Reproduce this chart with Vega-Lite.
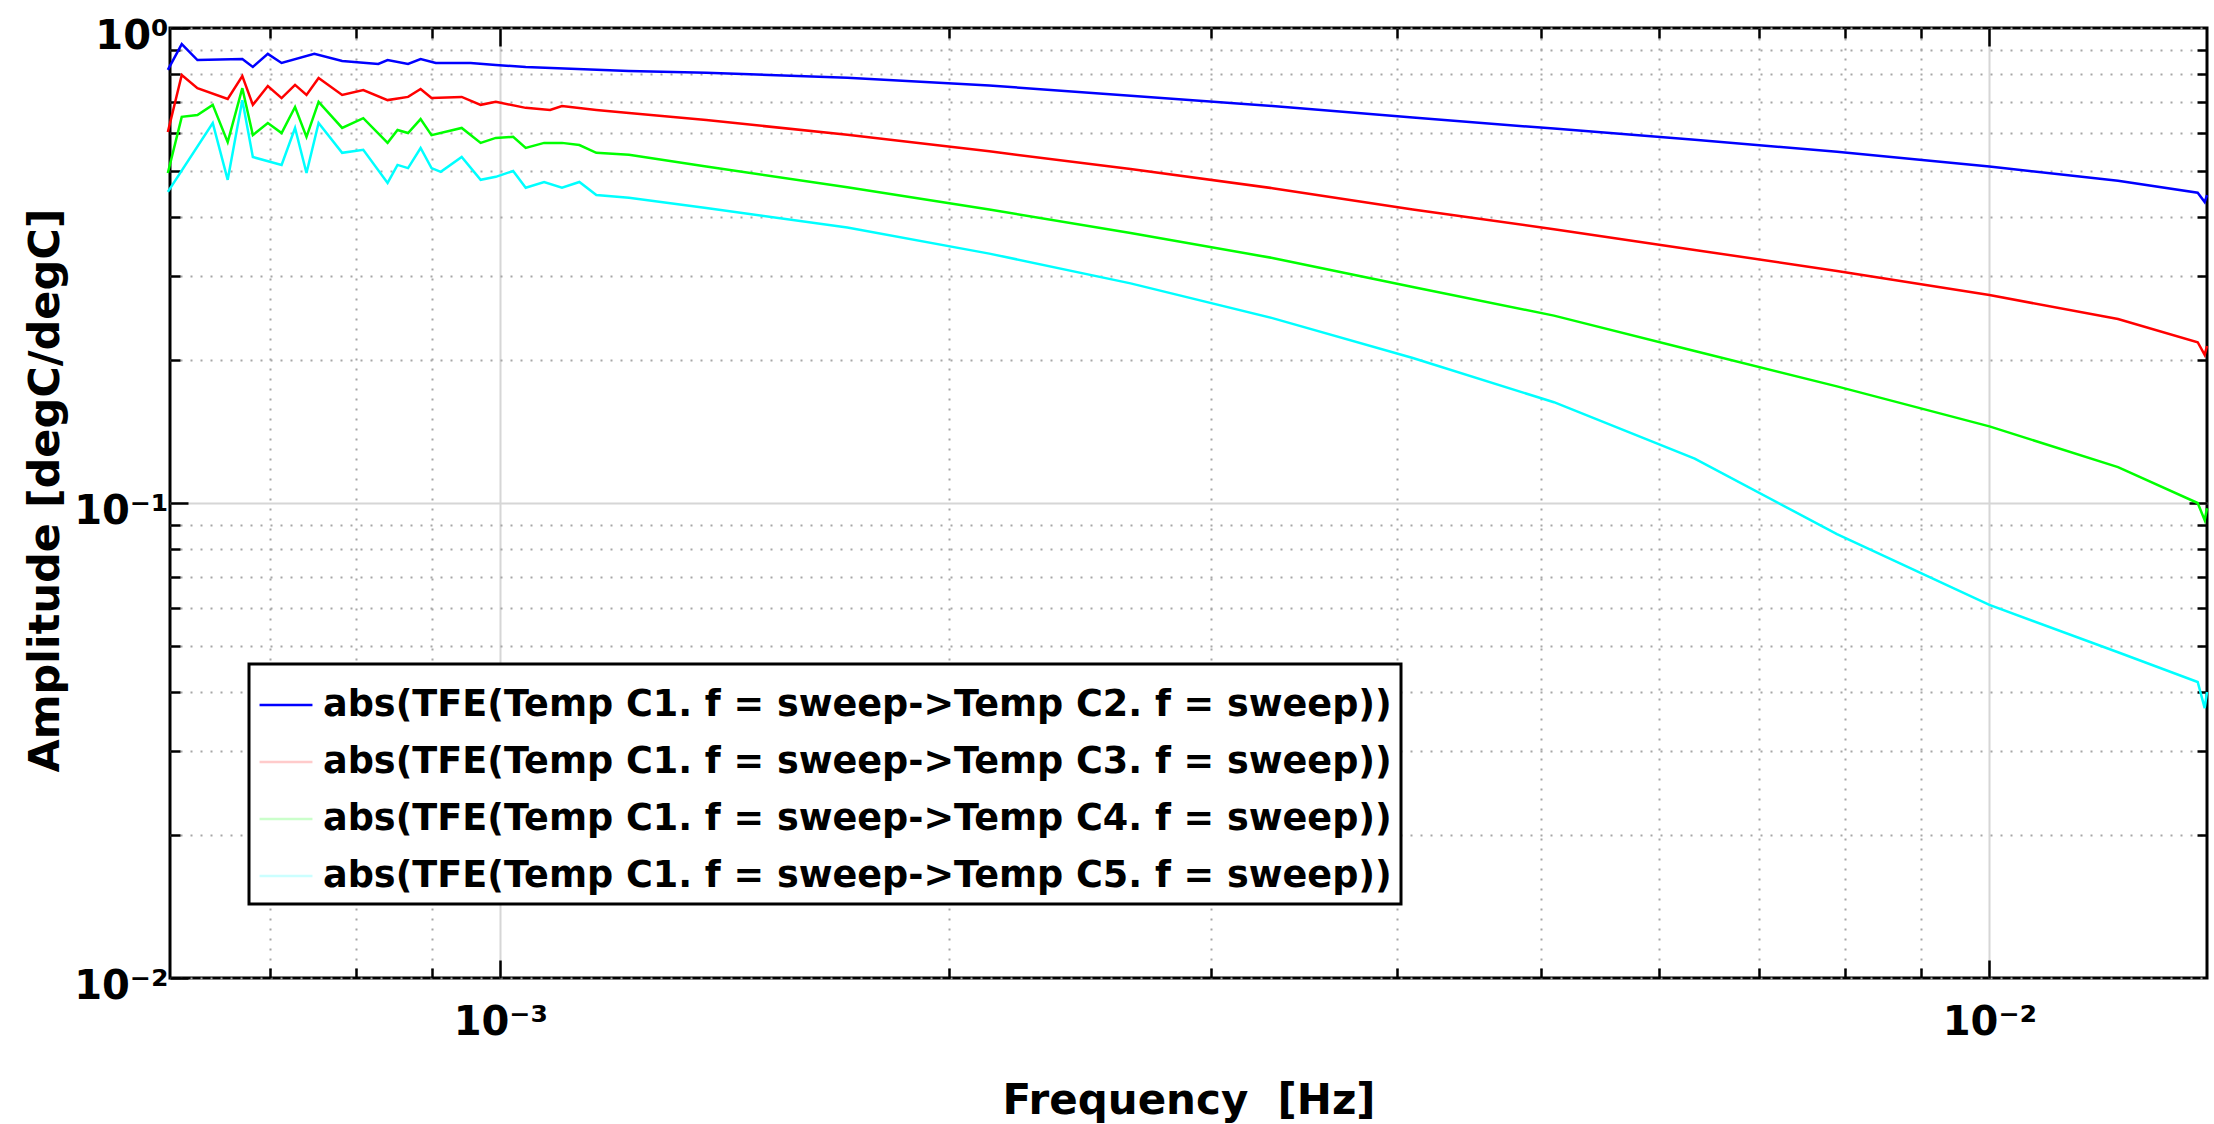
{
  "$schema": "https://vega.github.io/schema/vega-lite/v6.json",
  "width": 2037,
  "height": 950,
  "autosize": {"type": "none"},
  "padding": {"left": 170, "top": 28, "right": 7, "bottom": 146},
  "background": "white",
  "config": {"view": {"stroke": "black", "strokeWidth": 3}, "font": "DejaVu Sans"},
  "data": {"values": [
    {"s":"C2","f":0.000598,"a":0.816},{"s":"C2","f":0.000611,"a":0.925},{"s":"C2","f":0.000626,"a":0.856},{"s":"C2","f":0.000671,"a":0.86},{"s":"C2","f":0.000682,"a":0.828},{"s":"C2","f":0.000698,"a":0.882},{"s":"C2","f":0.000713,"a":0.844},{"s":"C2","f":0.00075,"a":0.882},{"s":"C2","f":0.000783,"a":0.852},{"s":"C2","f":0.000828,"a":0.84},{"s":"C2","f":0.00084,"a":0.856},{"s":"C2","f":0.000867,"a":0.84},{"s":"C2","f":0.000884,"a":0.86},{"s":"C2","f":0.000905,"a":0.844},{"s":"C2","f":0.000955,"a":0.844},{"s":"C2","f":0.000993,"a":0.836},{"s":"C2","f":0.00104,"a":0.828},{"s":"C2","f":0.00122,"a":0.812},{"s":"C2","f":0.001375,"a":0.805},{"s":"C2","f":0.00171,"a":0.786},{"s":"C2","f":0.00213,"a":0.757},{"s":"C2","f":0.00265,"a":0.72},{"s":"C2","f":0.0033,"a":0.685},{"s":"C2","f":0.0041,"a":0.648},{"s":"C2","f":0.0051,"a":0.614},{"s":"C2","f":0.00634,"a":0.582},{"s":"C2","f":0.0079,"a":0.549},{"s":"C2","f":0.01,"a":0.511},{"s":"C2","f":0.0122,"a":0.477},{"s":"C2","f":0.0138,"a":0.45},{"s":"C2","f":0.01395,"a":0.43},{"s":"C2","f":0.014,"a":0.445},
    {"s":"C3","f":0.000598,"a":0.604},{"s":"C3","f":0.000611,"a":0.796},{"s":"C3","f":0.000626,"a":0.747},{"s":"C3","f":0.000656,"a":0.709},{"s":"C3","f":0.000671,"a":0.792},{"s":"C3","f":0.000682,"a":0.689},{"s":"C3","f":0.000698,"a":0.755},{"s":"C3","f":0.000713,"a":0.712},{"s":"C3","f":0.000728,"a":0.759},{"s":"C3","f":0.000741,"a":0.723},{"s":"C3","f":0.000755,"a":0.785},{"s":"C3","f":0.000783,"a":0.723},{"s":"C3","f":0.000809,"a":0.74},{"s":"C3","f":0.00084,"a":0.705},{"s":"C3","f":0.000867,"a":0.716},{"s":"C3","f":0.000884,"a":0.744},{"s":"C3","f":0.000899,"a":0.712},{"s":"C3","f":0.000942,"a":0.716},{"s":"C3","f":0.00097,"a":0.689},{"s":"C3","f":0.000993,"a":0.699},{"s":"C3","f":0.00104,"a":0.679},{"s":"C3","f":0.00108,"a":0.672},{"s":"C3","f":0.0011,"a":0.685},{"s":"C3","f":0.00116,"a":0.672},{"s":"C3","f":0.00122,"a":0.662},{"s":"C3","f":0.001375,"a":0.64},{"s":"C3","f":0.00171,"a":0.596},{"s":"C3","f":0.00213,"a":0.55},{"s":"C3","f":0.00265,"a":0.505},{"s":"C3","f":0.0033,"a":0.46},{"s":"C3","f":0.0041,"a":0.415},{"s":"C3","f":0.0051,"a":0.377},{"s":"C3","f":0.00634,"a":0.341},{"s":"C3","f":0.0079,"a":0.308},{"s":"C3","f":0.01,"a":0.274},{"s":"C3","f":0.0122,"a":0.244},{"s":"C3","f":0.0138,"a":0.218},{"s":"C3","f":0.01395,"a":0.205},{"s":"C3","f":0.014,"a":0.214},
    {"s":"C4","f":0.000598,"a":0.495},{"s":"C4","f":0.000611,"a":0.65},{"s":"C4","f":0.000626,"a":0.656},{"s":"C4","f":0.000641,"a":0.689},{"s":"C4","f":0.000656,"a":0.575},{"s":"C4","f":0.000671,"a":0.747},{"s":"C4","f":0.000682,"a":0.595},{"s":"C4","f":0.000698,"a":0.631},{"s":"C4","f":0.000713,"a":0.601},{"s":"C4","f":0.000728,"a":0.682},{"s":"C4","f":0.000741,"a":0.59},{"s":"C4","f":0.000755,"a":0.699},{"s":"C4","f":0.000783,"a":0.616},{"s":"C4","f":0.000809,"a":0.646},{"s":"C4","f":0.00084,"a":0.573},{"s":"C4","f":0.000853,"a":0.61},{"s":"C4","f":0.000867,"a":0.601},{"s":"C4","f":0.000884,"a":0.643},{"s":"C4","f":0.000899,"a":0.595},{"s":"C4","f":0.000942,"a":0.616},{"s":"C4","f":0.00097,"a":0.573},{"s":"C4","f":0.000993,"a":0.587},{"s":"C4","f":0.00102,"a":0.59},{"s":"C4","f":0.00104,"a":0.559},{"s":"C4","f":0.00107,"a":0.573},{"s":"C4","f":0.0011,"a":0.573},{"s":"C4","f":0.00113,"a":0.567},{"s":"C4","f":0.00116,"a":0.546},{"s":"C4","f":0.00122,"a":0.541},{"s":"C4","f":0.001375,"a":0.511},{"s":"C4","f":0.00171,"a":0.462},{"s":"C4","f":0.00213,"a":0.415},{"s":"C4","f":0.00265,"a":0.37},{"s":"C4","f":0.0033,"a":0.328},{"s":"C4","f":0.0041,"a":0.285},{"s":"C4","f":0.0051,"a":0.248},{"s":"C4","f":0.00634,"a":0.209},{"s":"C4","f":0.0079,"a":0.176},{"s":"C4","f":0.01,"a":0.145},{"s":"C4","f":0.0122,"a":0.119},{"s":"C4","f":0.0138,"a":0.1},{"s":"C4","f":0.01395,"a":0.092},{"s":"C4","f":0.014,"a":0.0975},
    {"s":"C5","f":0.000598,"a":0.452},{"s":"C5","f":0.000641,"a":0.631},{"s":"C5","f":0.000656,"a":0.479},{"s":"C5","f":0.000671,"a":0.705},{"s":"C5","f":0.000682,"a":0.535},{"s":"C5","f":0.000713,"a":0.515},{"s":"C5","f":0.000728,"a":0.616},{"s":"C5","f":0.000741,"a":0.495},{"s":"C5","f":0.000755,"a":0.631},{"s":"C5","f":0.000783,"a":0.546},{"s":"C5","f":0.000809,"a":0.554},{"s":"C5","f":0.00084,"a":0.472},{"s":"C5","f":0.000853,"a":0.515},{"s":"C5","f":0.000867,"a":0.507},{"s":"C5","f":0.000884,"a":0.559},{"s":"C5","f":0.000899,"a":0.507},{"s":"C5","f":0.000912,"a":0.498},{"s":"C5","f":0.000942,"a":0.535},{"s":"C5","f":0.00097,"a":0.479},{"s":"C5","f":0.000993,"a":0.486},{"s":"C5","f":0.00102,"a":0.5},{"s":"C5","f":0.00104,"a":0.461},{"s":"C5","f":0.00107,"a":0.474},{"s":"C5","f":0.0011,"a":0.461},{"s":"C5","f":0.00113,"a":0.474},{"s":"C5","f":0.00116,"a":0.445},{"s":"C5","f":0.00122,"a":0.439},{"s":"C5","f":0.001375,"a":0.418},{"s":"C5","f":0.00171,"a":0.38},{"s":"C5","f":0.00213,"a":0.335},{"s":"C5","f":0.00265,"a":0.29},{"s":"C5","f":0.0033,"a":0.245},{"s":"C5","f":0.0041,"a":0.202},{"s":"C5","f":0.0051,"a":0.163},{"s":"C5","f":0.00634,"a":0.124},{"s":"C5","f":0.0079,"a":0.086},{"s":"C5","f":0.01,"a":0.061},{"s":"C5","f":0.0122,"a":0.0485},{"s":"C5","f":0.0138,"a":0.042},{"s":"C5","f":0.01395,"a":0.037},{"s":"C5","f":0.014,"a":0.04}
  ]},
  "layer": [
    {
      "mark": {"type": "line", "strokeWidth": 2.5},
      "encoding": {
        "x": {"field": "f", "type": "quantitative",
          "scale": {"type": "log", "domain": [0.0006, 0.014], "nice": false},
          "axis": {"orient": "bottom",
            "values": [0.0007,0.0008,0.0009,0.001,0.002,0.003,0.004,0.005,0.006,0.007,0.008,0.009,0.01],
            "domain": false, "grid": true,
            "gridColor": {"condition": {"test": "datum.value == 0.001 || datum.value == 0.01", "value": "#d6d6d6"}, "value": "#a6a6a6"},
            "gridDash": {"condition": {"test": "datum.value == 0.001 || datum.value == 0.01", "value": [1, 0]}, "value": [2, 8]},
            "gridWidth": 2,
            "tickColor": "black", "tickWidth": 2.5,
            "tickSize": {"condition": {"test": "datum.value == 0.001 || datum.value == 0.01", "value": -18}, "value": -10},
            "labelExpr": "datum.value == 0.001 ? '10⁻³' : datum.value == 0.01 ? '10⁻²' : ''",
            "labelFont": "DejaVu Sans", "labelFontSize": 40, "labelFontWeight": "bold", "labelColor": "black",
            "labelPadding": 42, "labelOverlap": false, "labelFlush": false, "labelBaseline": "top",
            "title": "Frequency \u00a0[Hz]", "titleFont": "DejaVu Sans", "titleFontSize": 42, "titleFontWeight": "bold", "titleColor": "black",
            "titleY": 135, "titleBaseline": "alphabetic"}},
        "y": {"field": "a", "type": "quantitative",
          "scale": {"type": "log", "domain": [0.01, 1], "nice": false},
          "axis": {"orient": "left",
            "values": [0.02,0.03,0.04,0.05,0.06,0.07,0.08,0.09,0.1,0.2,0.3,0.4,0.5,0.6,0.7,0.8,0.9,0.01,1],
            "domain": false, "grid": true,
            "gridColor": {"condition": {"test": "datum.value == 0.1", "value": "#d6d6d6"}, "value": "#a6a6a6"},
            "gridDash": {"condition": {"test": "datum.value == 0.1", "value": [1, 0]}, "value": [2, 8]},
            "gridWidth": 2,
            "tickColor": "black", "tickWidth": 2.5,
            "tickSize": {"condition": {"test": "datum.value == 0.01 || datum.value == 0.1 || datum.value == 1", "value": -18}, "value": -10},
            "labelExpr": "datum.value == 1 ? '10⁰' : datum.value == 0.1 ? '10⁻¹' : datum.value == 0.01 ? '10⁻²' : ''",
            "labelFont": "DejaVu Sans", "labelFontSize": 40, "labelFontWeight": "bold", "labelColor": "black",
            "labelPadding": 20, "labelOverlap": false, "labelFlush": false, "labelOffset": 8,
            "title": "Amplitude [degC/degC]", "titleFont": "DejaVu Sans", "titleFontSize": 43, "titleFontWeight": "bold", "titleColor": "black",
            "titleX": -125, "titleY": 462, "titleAngle": 270, "titleBaseline": "middle", "titleAlign": "center"}},
        "color": {"field": "s", "type": "nominal",
          "scale": {"domain": ["C2","C3","C4","C5"], "range": ["#0000ff","#ff0000","#00ff00","#00ffff"]},
          "legend": {"orient": "none", "legendX": 79, "legendY": 636, "title": " ",
            "titleFontSize": 4, "titlePadding": 0,
            "symbolType": "stroke", "symbolSize": 2800, "symbolStrokeWidth": 2.5,
            "labelExpr": "'abs(TFE(Temp C1. f = sweep->Temp ' + datum.label + '. f = sweep))'",
            "labelFont": "DejaVu Sans", "labelFontSize": 36.6, "labelFontWeight": "bold", "labelColor": "black",
            "labelLimit": 2000, "labelOffset": 9, "rowPadding": 10, "padding": 9,
            "strokeColor": "black", "fillColor": "white",
            "encode": {
              "legend": {"update": {"strokeWidth": {"value": 3}}},
              "symbols": {"update": {"opacity": {"signal": "datum.value == 'C2' ? 1 : 0.2"}}}
            }}}
      }
    },
    {
      "mark": {"type": "line", "opacity": 0},
      "encoding": {
        "detail": {"field": "s", "type": "nominal"},
        "x": {"field": "f", "type": "quantitative",
          "axis": {"orient": "top",
            "values": [0.0007,0.0008,0.0009,0.001,0.002,0.003,0.004,0.005,0.006,0.007,0.008,0.009,0.01],
            "domain": false, "grid": false, "labels": false, "title": null,
            "tickColor": "black", "tickWidth": 2.5,
            "tickSize": {"condition": {"test": "datum.value == 0.001 || datum.value == 0.01", "value": -18}, "value": -10}}},
        "y": {"field": "a", "type": "quantitative",
          "axis": {"orient": "right",
            "values": [0.02,0.03,0.04,0.05,0.06,0.07,0.08,0.09,0.1,0.2,0.3,0.4,0.5,0.6,0.7,0.8,0.9],
            "domain": false, "grid": false, "labels": false, "title": null,
            "tickColor": "black", "tickWidth": 2.5,
            "tickSize": {"condition": {"test": "datum.value == 0.1", "value": -18}, "value": -10}}}
      }
    }
  ],
  "resolve": {"axis": {"x": "independent", "y": "independent"}}
}
